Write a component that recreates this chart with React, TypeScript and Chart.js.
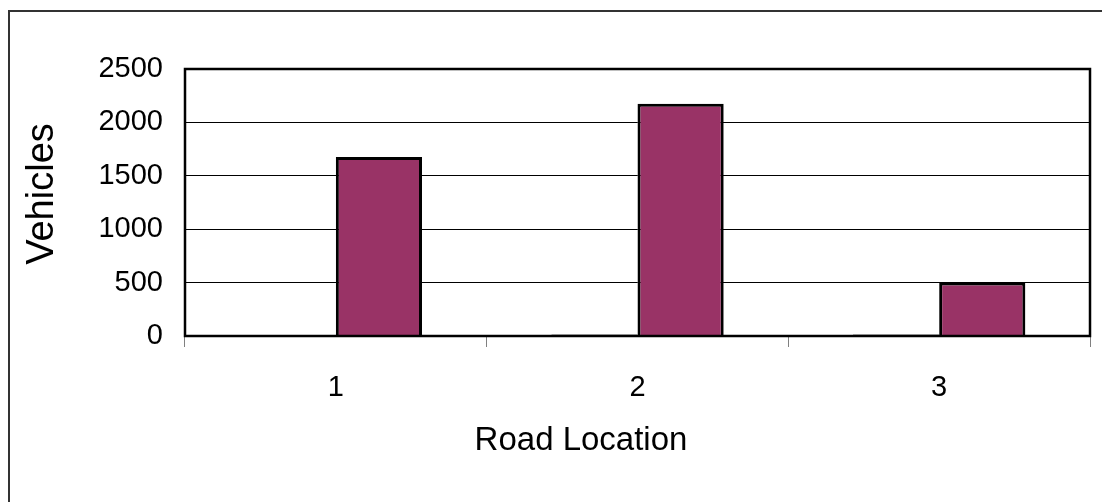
import React, { useEffect, useRef } from "react";
import { Chart, registerables } from "chart.js";

Chart.register(...registerables);

const categories = ["1", "2", "3"];
const series1 = [0, 14, 14];
const series2 = [1675, 2175, 500];
const yTicks = [0, 500, 1000, 1500, 2000, 2500];
const xTitle = "Road Location";
const yTitle = "Vehicles";

const FONT = "'Liberation Sans', Arial, sans-serif";

const framePlugin = {
  id: "frame",
  beforeDraw(chart: any) {
    const { ctx, width, height } = chart;
    ctx.save();
    ctx.fillStyle = "#ffffff";
    ctx.fillRect(0, 0, width, height);
    ctx.strokeStyle = "#333333";
    ctx.lineWidth = 2;
    ctx.beginPath();
    ctx.moveTo(9, height + 5);
    ctx.lineTo(9, 11);
    ctx.lineTo(width + 5, 11);
    ctx.stroke();
    ctx.restore();
  },
  afterDatasetsDraw(chart: any) {
    const { ctx, chartArea } = chart;
    ctx.save();
    ctx.strokeStyle = "#000000";
    ctx.lineWidth = 2.5;
    ctx.strokeRect(chartArea.left, chartArea.top, chartArea.right - chartArea.left, chartArea.bottom - chartArea.top);
    ctx.restore();
  },
  afterDraw(chart: any) {
    const { ctx } = chart;
    ctx.save();
    ctx.fillStyle = "#000000";
    ctx.textAlign = "center";
    ctx.textBaseline = "middle";
    ctx.font = `33px ${FONT}`;
    ctx.fillText(xTitle, 581, 441);
    ctx.translate(43, 194);
    ctx.rotate(-Math.PI / 2);
    ctx.font = `38px ${FONT}`;
    ctx.fillText(yTitle, 0, 0);
    ctx.restore();
  },
};

export default function App() {
  const ref = useRef<HTMLCanvasElement | null>(null);
  useEffect(() => {
    if (!ref.current) return;
    const chart = new Chart(ref.current, {
      type: "bar",
      data: {
        labels: categories,
        datasets: [
          {
            label: "Series 1",
            data: series1,
            backgroundColor: "#9999FF",
            borderColor: "#000000",
            borderWidth: 1,
            categoryPercentage: 2 / 3.5,
            barPercentage: 1,
          },
          {
            label: "Series 2",
            data: series2,
            backgroundColor: "#993366",
            borderColor: "#000000",
            borderWidth: 3,
            categoryPercentage: 2 / 3.5,
            barPercentage: 1,
          },
        ],
      },
      options: {
        responsive: false,
        animation: false,
        layout: { padding: { left: 0, top: 69, right: 12, bottom: 0 } },
        plugins: { legend: { display: false }, tooltip: { enabled: false } },
        scales: {
          x: {
            afterFit: (s: any) => { s.height = 166; },
            grid: { drawOnChartArea: false, drawTicks: true, tickLength: 11, color: "#808080", lineWidth: 1 },
            border: { display: false },
            ticks: { color: "#000000", padding: 24, font: { family: FONT, size: 29 } },
          },
          y: {
            min: 0,
            max: 2500,
            afterFit: (s: any) => { s.width = 185; },
            afterBuildTicks: (s: any) => { s.ticks = yTicks.map((v) => ({ value: v })); },
            grid: { drawTicks: false, color: "#000000", lineWidth: 1 },
            border: { display: false },
            ticks: {
              color: "#000000",
              padding: 22,
              font: { family: FONT, size: 29 },
              callback: (v: any) => String(v),
            },
          },
        },
      },
      plugins: [framePlugin],
    });
    return () => chart.destroy();
  }, []);
  return (
    <canvas
      ref={ref}
      width={1102}
      height={502}
      style={{ position: "fixed", left: 0, top: 0, width: 1102, height: 502 }}
    />
  );
}
